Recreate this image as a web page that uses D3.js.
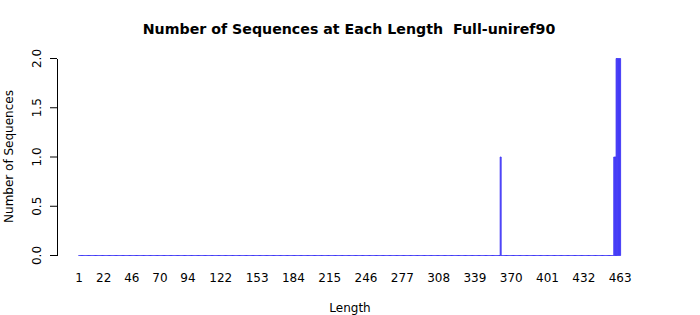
<!DOCTYPE html>
<html>
<head>
<meta charset="utf-8">
<script src="https://cdn.jsdelivr.net/npm/d3@7"></script>
<style>
  body { margin: 0; background: #fff; }
  text { font-family: "DejaVu Sans", sans-serif; fill: #000; }
</style>
</head>
<body>
<div id="chart"></div>
<script>
// lengths that have sequences (all other lengths 1..463 are zero)
var minLength = 1, maxLength = 463;
var hitLengths = [361, 458, 459, 460, 461, 462, 463];
var hitCounts  = [1,   1,   1,   2,   2,   2,   2];

// labels R managed to print under the bars
var xTickLabels = [1, 22, 46, 70, 94, 122, 153, 184, 215, 246, 277, 308, 339, 370, 401, 432, 463];
var yTicks = [0, 0.5, 1, 1.5, 2];

var lengths = d3.range(minLength, maxLength + 1);
var counts = lengths.map(function(l){
	var i = hitLengths.indexOf(l);
	return i < 0 ? 0 : hitCounts[i];
});

var width = 700, height = 315;

var svg = d3.select("#chart").append("svg")
	.attr("width", width)
	.attr("height", height);

// scales
var x = d3.scaleBand()
	.domain(lengths)
	.range([78.6, 620.6])
	.paddingInner(0.2 / 1.2)
	.paddingOuter(0);

var y = d3.scaleLinear()
	.domain([0, 2])
	.range([255.5, 58.5]);

// bars (path so zero-height bars still show as a line)
svg.append("g")
	.selectAll("path")
	.data(lengths)
	.enter()
	.append("path")
		.attr("d", function(d, i){
			var x0 = x(d), x1 = x(d) + x.bandwidth();
			var y0 = y(0), y1 = y(counts[i]);
			return "M" + x0 + "," + y0 + "V" + y1 + "H" + x1 + "V" + y0 + "Z";
		})
		.attr("fill", "#6a55ff")
		.attr("stroke", "#3d35f5")
		.attr("stroke-width", 0.9);

// x axis: labels only, no line
var xAxisCall = d3.axisBottom(x)
	.tickValues(xTickLabels)
	.tickSize(0)
	.tickPadding(0);
var xAxis = svg.append("g")
	.attr("transform", "translate(0, 273)")
	.call(xAxisCall);
xAxis.select(".domain").remove();
xAxis.selectAll("text")
	.attr("font-size", "12px")
	.attr("font-family", "DejaVu Sans")
	.attr("dy", "0.71em");

// y axis
var yAxisCall = d3.axisLeft(y)
	.tickValues(yTicks)
	.tickSize(7)
	.tickSizeOuter(0)
	.tickFormat(d3.format(".1f"));
var yAxis = svg.append("g")
	.attr("transform", "translate(57, 0)")
	.call(yAxisCall);
yAxis.selectAll("text")
	.attr("font-size", "12px")
	.attr("font-family", "DejaVu Sans")
	.attr("text-anchor", "middle")
	.attr("x", 0)
	.attr("dy", 0)
	.attr("transform", function(d){ return "translate(-16," + y(d) + ") rotate(-90)"; })
	.attr("y", 0);
yAxis.selectAll(".tick").attr("transform", null);
yAxis.selectAll(".tick line")
	.attr("y1", function(d){ return y(d); })
	.attr("y2", function(d){ return y(d); });

// title
svg.append("text")
	.attr("x", 349)
	.attr("y", 34)
	.attr("text-anchor", "middle")
	.attr("font-size", "14.2px")
	.attr("font-weight", "bold")
	.style("white-space", "pre")
	.text("Number of Sequences at Each Length  Full-uniref90");

// x label
svg.append("text")
	.attr("x", 350)
	.attr("y", 312)
	.attr("text-anchor", "middle")
	.attr("font-size", "12px")
	.text("Length");

// y label
svg.append("text")
	.attr("transform", "translate(13, 156.5) rotate(-90)")
	.attr("text-anchor", "middle")
	.attr("font-size", "12px")
	.text("Number of Sequences");
</script>
</body>
</html>
